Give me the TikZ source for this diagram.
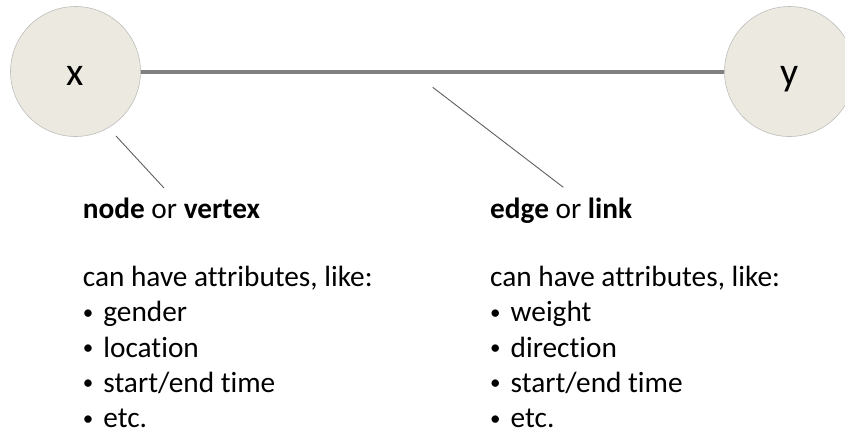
\documentclass[tikz,border=0pt]{standalone}
\usepackage{fontspec}
\setmainfont{Carlito}[Ligatures=NoCommon]
\usetikzlibrary{positioning}
\definecolor{vertexfill}{RGB}{235,233,224}
\definecolor{vertexline}{RGB}{190,190,188}
\definecolor{edgegray}{RGB}{128,128,128}
\definecolor{pointergray}{RGB}{95,95,95}
\tikzset{
  vertex/.style={circle, draw=vertexline, line width=0.6pt, fill=vertexfill,
    minimum size=130pt, inner sep=0pt, font=\fontsize{40}{48}\selectfont,
    text height=28pt, text depth=0pt},
  linkline/.style={draw=edgegray, line width=4pt},
  pointer/.style={draw=pointergray, line width=0.9pt},
  caption/.style={anchor=base west, inner sep=0pt, font=\fontsize{29.3}{35.2}\selectfont},
  attrlist/.style={caption, align=left}
}
\newcommand{\attritem}[1]{\makebox[20.5pt][l]{\raisebox{2.5pt}{\fontsize{21}{21}\selectfont\textbullet}}#1}
\begin{document}
\begin{tikzpicture}[x=1pt,y=-1pt]
\useasboundingbox (0,0) rectangle (845,434);
\node[vertex] (X) at (75.5,71.5) {x};
\node[vertex] (Y) at (789.5,71.5) {y};
\draw[linkline] (X) -- (Y);
\coordinate (P1) at (116,136);
\coordinate (Q1) at (164,188);
\coordinate (P2) at (432.7,87.3);
\coordinate (Q2) at (563.3,187.3);
\draw[pointer] (P1) -- (Q1);
\draw[pointer] (P2) -- (Q2);
\node[caption] (nodetitle) at (82.7,218) {\textbf{node} or \textbf{vertex}};
\node[attrlist] (nodeattr) at (82.7,427.5) {can have attributes, like:\\
  \attritem{gender}\\
  \attritem{location}\\
  \attritem{start/end time}\\
  \attritem{etc.}};
\node[caption] (edgetitle) at (490,218) {\textbf{edge} or \textbf{link}};
\node[attrlist] (edgeattr) at (490,427.5) {can have attributes, like:\\
  \attritem{weight}\\
  \attritem{direction}\\
  \attritem{start/end time}\\
  \attritem{etc.}};
\end{tikzpicture}
\end{document}
